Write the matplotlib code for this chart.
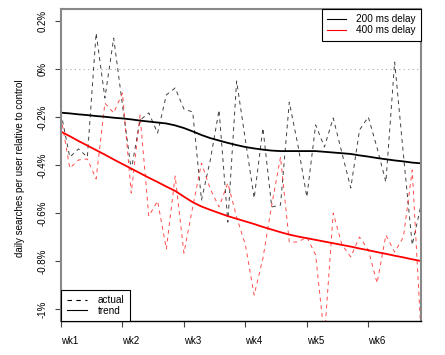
import matplotlib
matplotlib.use("Agg")
import matplotlib.pyplot as plt
from matplotlib.lines import Line2D

plt.rcParams["font.family"] = ["Liberation Sans", "DejaVu Sans"]
plt.rcParams["font.size"] = 7

# day index, 6 weeks of daily values (% change vs control)
days = list(range(42))

actual200 = [-0.183, -0.367, -0.333, -0.367, 0.150, -0.121, 0.129, -0.150, -0.421, -0.213,
             -0.183, -0.267, -0.108, -0.079, -0.167, -0.179, -0.546, -0.380, -0.171, -0.638,
             -0.050, -0.296, -0.538, -0.246, -0.575, -0.567, -0.138, -0.321, -0.533, -0.233,
             -0.325, -0.204, -0.350, -0.496, -0.254, -0.200, -0.329, -0.471, 0.029, -0.358,
             -0.733, -0.567]
actual400 = [-0.200, -0.413, -0.379, -0.375, -0.458, -0.142, -0.183, -0.100, -0.517, -0.192,
             -0.613, -0.550, -0.750, -0.446, -0.767, -0.575, -0.392, -0.500, -0.575, -0.475,
             -0.617, -0.733, -0.942, -0.788, -0.567, -0.367, -0.721, -0.721, -0.700, -0.775,
             -1.120, -0.600, -0.733, -0.783, -0.700, -0.754, -0.892, -0.692, -0.763, -0.700,
             -0.421, -1.100]

trend200 = [-0.182, -0.185, -0.189, -0.192, -0.196, -0.199, -0.203, -0.206, -0.210, -0.215,
            -0.219, -0.223, -0.227, -0.235, -0.246, -0.260, -0.275, -0.288, -0.298, -0.308,
            -0.317, -0.325, -0.331, -0.336, -0.340, -0.342, -0.342, -0.342, -0.342, -0.342,
            -0.345, -0.348, -0.351, -0.354, -0.360, -0.365, -0.371, -0.376, -0.381, -0.385,
            -0.390, -0.393]
trend400 = [-0.261, -0.280, -0.300, -0.319, -0.338, -0.357, -0.377, -0.396, -0.415, -0.434,
            -0.453, -0.471, -0.490, -0.508, -0.532, -0.555, -0.573, -0.587, -0.600, -0.613,
            -0.624, -0.635, -0.646, -0.658, -0.669, -0.680, -0.690, -0.698, -0.705, -0.712,
            -0.719, -0.726, -0.733, -0.740, -0.748, -0.755, -0.763, -0.770, -0.778, -0.785,
            -0.793, -0.800]

week_ticks = [0, 7, 14, 21, 28, 35]
week_labels = ["wk1", "wk2", "wk3", "wk4", "wk5", "wk6"]
y_ticks = [-1.0, -0.8, -0.6, -0.4, -0.2, 0.0, 0.2]
y_labels = ["-1%", "-0.8%", "-0.6%", "-0.4%", "-0.2%", "0%", "0.2%"]

fig = plt.figure(figsize=(4.45, 3.55), dpi=100)
ax = fig.add_axes([61 / 445, 34 / 355, 360 / 445, 312 / 355])

ax.axhline(0, color="#aaaaaa", lw=0.8, ls=(0, (1, 3)))

ax.plot(days, actual200, color="black", alpha=0.75, lw=0.7, ls=(0, (4, 4)))
ax.plot(days, actual400, color="red", alpha=0.7, lw=0.7, ls=(0, (4, 4)))
ax.plot(days, trend200, color="black", lw=1.3)
ax.plot(days, trend400, color="red", lw=1.3)

ax.set_xlim(0, 41)
ax.set_ylim(-1.05, 0.25)

ax.set_xticks(week_ticks)
ax.set_xticklabels(week_labels, ha="left")
ax.set_yticks(y_ticks)
ax.set_yticklabels(y_labels)
ax.tick_params(axis="x", length=4.5, width=0.8, pad=6, color="#444444")
ax.tick_params(axis="y", length=4.5, width=0.8, pad=5, labelrotation=90, color="#444444")
for lab in ax.get_yticklabels():
    lab.set_va("center")

for side in ["left", "right", "top"]:
    ax.spines[side].set_color("#888888")
    ax.spines[side].set_linewidth(1.5)
ax.spines["bottom"].set_color("black")
ax.spines["bottom"].set_linewidth(1.0)

ax.set_ylabel("daily searches per user relative to control", va="center")
ax.yaxis.set_label_coords(-41 / 360, 0.49)

# legends
delay_handles = [Line2D([], [], color="black", lw=0.8), Line2D([], [], color="red", lw=0.8)]
leg1 = ax.legend(delay_handles, ["200 ms delay", "400 ms delay"], loc="upper right",
                 borderaxespad=0, fancybox=False, framealpha=1, edgecolor="black",
                 handlelength=1.9, handletextpad=1.0, labelspacing=0.05, borderpad=0.55,
                 fontsize=7.2)
leg1.get_frame().set_linewidth(0.8)
ax.add_artist(leg1)

kind_handles = [Line2D([], [], color="black", lw=0.8, ls=(0, (4, 4))),
                Line2D([], [], color="black", lw=0.8)]
leg2 = ax.legend(kind_handles, ["actual", "trend"], loc="lower left",
                 borderaxespad=0, fancybox=False, framealpha=1, edgecolor="black",
                 handlelength=2.0, handletextpad=1.1, labelspacing=0.05, borderpad=0.55,
                 fontsize=7.2)
leg2.get_frame().set_linewidth(0.8)

fig.savefig("out.png", dpi=100)
